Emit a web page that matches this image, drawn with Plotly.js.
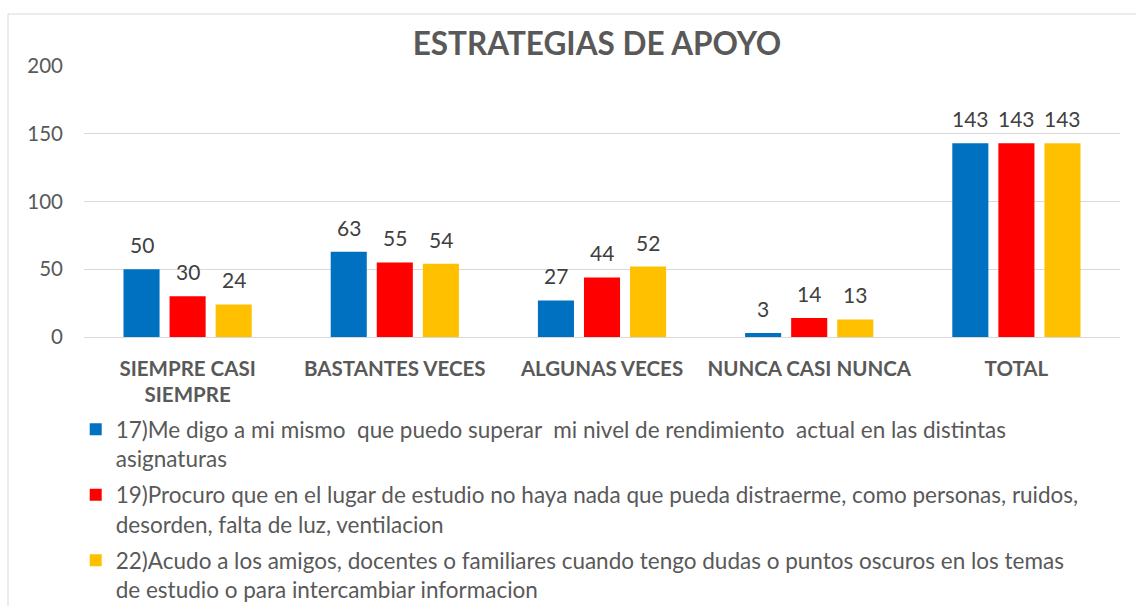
<!DOCTYPE html>
<html>
<head>
<meta charset="utf-8">
<script src="https://cdn.plot.ly/plotly-3.0.1.min.js"></script>
<style>html,body{margin:0;padding:0;background:#fff;}#chart{width:1136px;height:606px;}</style>
</head>
<body>
<div id="chart"></div>
<script>
const categories = ["SIEMPRE CASI<br>SIEMPRE", "BASTANTES VECES", "ALGUNAS VECES", "NUNCA CASI NUNCA", "TOTAL"];
const seriesNames = [
  "17)Me digo a mi mismo  que puedo superar  mi nivel de rendimiento  actual en las distintas<br>asignaturas",
  "19)Procuro que en el lugar de estudio no haya nada que pueda distraerme, como personas, ruidos,<br>desorden, falta de luz, ventilacion",
  "22)Acudo a los amigos, docentes o familiares cuando tengo dudas o puntos oscuros en los temas<br>de estudio o para intercambiar informacion"
];
const values17 = [50, 63, 27, 3, 143];
const values19 = [30, 55, 44, 14, 143];
const values22 = [24, 54, 52, 13, 143];
const colors = ["#0070C0", "#FF0000", "#FFC000"];
const yTicks = [0, 50, 100, 150, 200];

const FONT = "Lato, 'Open Sans', sans-serif";
const W = 1136, H = 606;
const margin = {l: 84, r: 16, t: 66, b: 269, autoexpand: false};
const bargap = 0.333;
const allValues = [values17, values19, values22];

const traces = allValues.map((vals, i) => ({
  type: "bar",
  x: categories,
  y: vals,
  name: seriesNames[i],
  legendgroup: "g" + i,
  marker: {color: colors[i]},
  hoverinfo: "none"
}));

// data labels placed on each bar via the axes (category, value) with group offset
const plotW = W - margin.l - margin.r;
const slot = plotW / categories.length * (1 - bargap) / allValues.length;
const annotations = [];
allValues.forEach((vals, i) => {
  vals.forEach((v, j) => {
    annotations.push({
      x: categories[j], y: v, xref: "x", yref: "y",
      text: String(v), showarrow: false,
      xanchor: "center", yanchor: "bottom",
      xshift: (i - (allValues.length - 1) / 2) * slot,
      yshift: 10,
      font: {family: FONT, size: 21, color: "#404040"}
    });
  });
});

const layout = {
  width: W,
  height: H,
  margin: margin,
  paper_bgcolor: "#ffffff",
  plot_bgcolor: "#ffffff",
  barmode: "group",
  bargap: bargap,
  bargroupgap: 0.217,
  title: {
    text: "<b>ESTRATEGIAS DE APOYO</b>",
    font: {family: FONT, size: 31.5, color: "#595959"},
    x: 0.5255, xref: "container", xanchor: "center",
    y: 1 - 44/606, yref: "container", yanchor: "middle"
  },
  xaxis: {
    type: "category",
    showgrid: false,
    showline: false,
    ticks: "",
    tickfont: {family: FONT, size: 20.5, color: "#595959", weight: "bold"},
    ticklabelstandoff: 17
  },
  yaxis: {
    range: [0, 200],
    tickvals: yTicks,
    showgrid: true,
    gridcolor: "#d9d9d9",
    gridwidth: 1,
    zeroline: true,
    zerolinecolor: "#d9d9d9",
    zerolinewidth: 1,
    showline: false,
    ticks: "",
    tickfont: {family: FONT, size: 20.5, color: "#595959"},
    ticklabelstandoff: 20
  },
  showlegend: true,
  legend: {
    x: -0.008, xanchor: "left",
    y: (337 - 408) / 271, yanchor: "top",
    orientation: "v",
    valign: "top",
    font: {family: FONT, size: 22.5, color: "#595959"},
    tracegroupgap: 4,
    itemwidth: 30,
    bgcolor: "rgba(0,0,0,0)"
  },
  annotations: annotations,
  shapes: [{
    type: "rect", xref: "paper", yref: "paper",
    x0: (8 - 84) / 1036, x1: 1.1, y0: -1.2, y1: (337 - 14) / 271,
    line: {color: "#d9d9d9", width: 1}
  }]
};

Plotly.newPlot("chart", traces, layout, {displayModeBar: false, staticPlot: true});
</script>
</body>
</html>
